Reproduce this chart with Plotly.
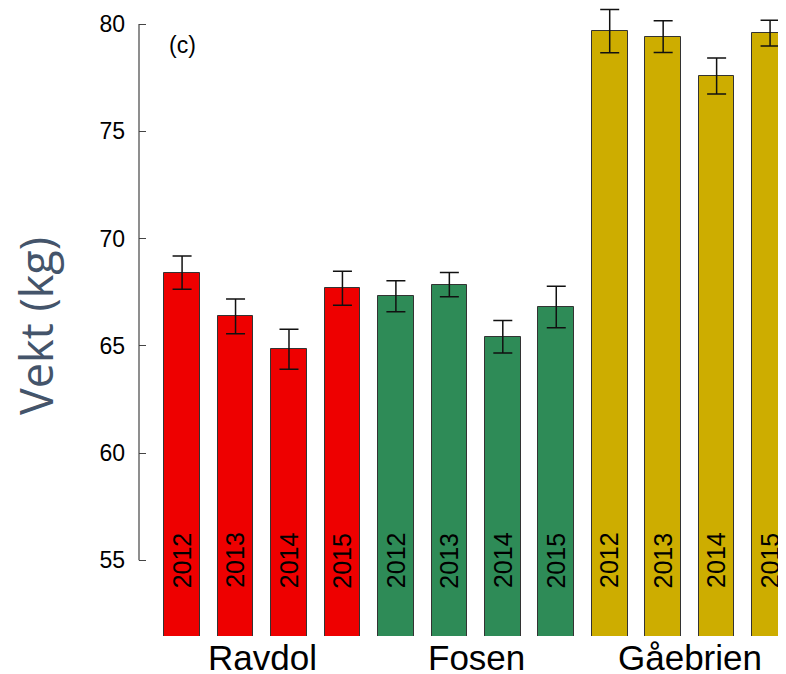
import plotly.graph_objects as go

groups = ["Ravdol", "Fosen", "Gåebrien"]
years = ["2012", "2013", "2014", "2015"]
colors = {"Ravdol": "#EE0000", "Fosen": "#2E8B57", "Gåebrien": "#CDAD00"}

ravdol_mean = [68.41, 66.37, 64.84, 67.68]
ravdol_err = [0.77, 0.81, 0.93, 0.79]
fosen_mean = [67.31, 67.85, 65.42, 66.81]
fosen_err = [0.72, 0.57, 0.76, 0.97]
gaebrien_mean = [79.67, 79.41, 77.58, 79.57]
gaebrien_err = [1.01, 0.74, 0.84, 0.60]

means = {"Ravdol": ravdol_mean, "Fosen": fosen_mean, "Gåebrien": gaebrien_mean}
errs = {"Ravdol": ravdol_err, "Fosen": fosen_err, "Gåebrien": gaebrien_err}

y_ticks = [55, 60, 65, 70, 75, 80]
y_title = "Vekt (kg)"
panel_label = "(c)"

FONT = "Liberation Sans, Arial, sans-serif"

fig = go.Figure()
annotations = []
pos = 0
for g in groups:
    xs = list(range(pos, pos + len(years)))
    fig.add_trace(go.Bar(
        x=xs, y=means[g], width=0.666,
        marker=dict(color=colors[g], line=dict(color="#333333", width=1)),
        error_y=dict(type="data", array=errs[g], visible=True,
                     color="#111111", thickness=1.5, width=9.5),
        showlegend=False, hoverinfo="skip",
    ))
    for x, yr in zip(xs, years):
        annotations.append(dict(x=x, y=55, xref="x", yref="y", text=yr,
                                textangle=-90, showarrow=False,
                                xanchor="center", yanchor="middle",
                                font=dict(family=FONT, size=25, color="black")))
    annotations.append(dict(x=(xs[0] + xs[-1]) / 2, y=0, xref="x", yref="paper",
                            text=g, showarrow=False, xanchor="center",
                            yanchor="top", yshift=0,
                            font=dict(family=FONT, size=35, color="black")))
    pos += len(years)

annotations.append(dict(x=0, y=79, xref="x", yref="y", text=panel_label,
                        showarrow=False, xanchor="center", yanchor="middle",
                        font=dict(family=FONT, size=23, color="black")))
annotations.append(dict(x=-0.1607, y=0.4936, xref="paper", yref="paper",
                        text=y_title, textangle=-90, showarrow=False,
                        xanchor="center", yanchor="middle",
                        font=dict(family="Open Sans, sans-serif", size=45,
                                  color="#44546A")))

fig.add_shape(type="line", xref="paper", yref="y", x0=0, x1=0,
              y0=min(y_ticks), y1=max(y_ticks),
              line=dict(color="#444444", width=1.2))

fig.update_layout(
    width=786, height=674,
    margin=dict(l=131, r=8, t=0, b=46),
    paper_bgcolor="white", plot_bgcolor="white",
    annotations=annotations,
    bargap=0,
    xaxis=dict(range=[-0.806, 11.298], showticklabels=False, ticks="",
               showgrid=False, zeroline=False, showline=False),
    yaxis=dict(range=[51.47, 80.746], tickvals=y_ticks,
               ticktext=[str(v) for v in y_ticks],
               ticks="inside", ticklen=7, tickwidth=1.2, tickcolor="#444444",
               ticklabelstandoff=13,
               tickfont=dict(family=FONT, size=23, color="black"),
               showgrid=False, zeroline=False, showline=False),
)

fig.write_html("out.html")
